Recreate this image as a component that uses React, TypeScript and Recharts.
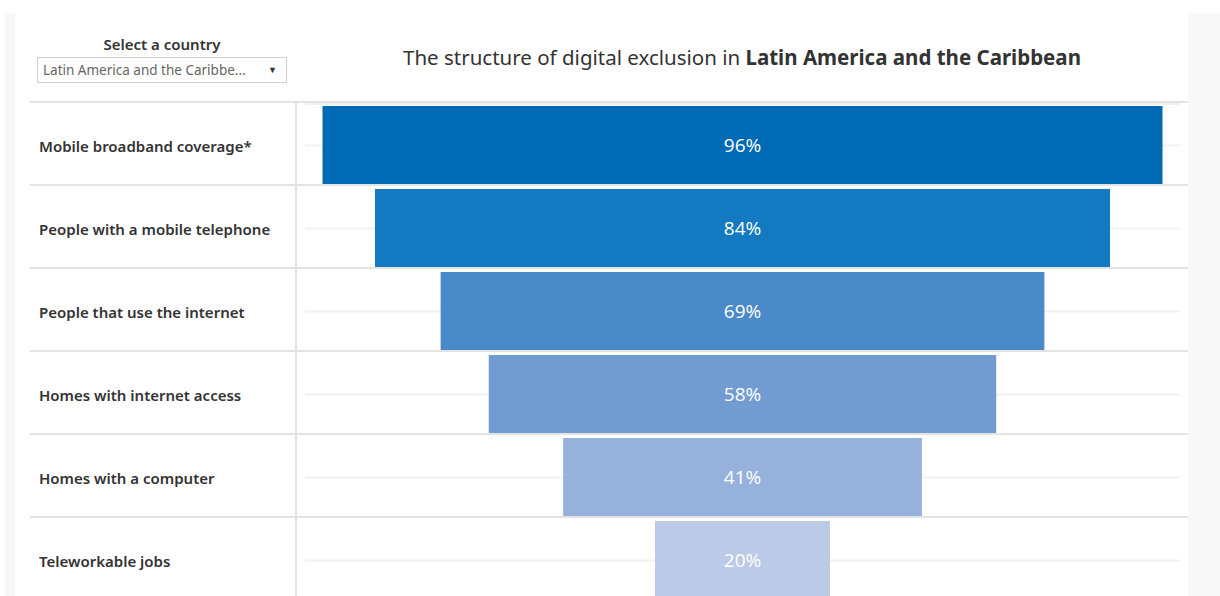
import { BarChart, Bar, XAxis, YAxis, CartesianGrid, Cell, LabelList } from 'recharts'

const categories = [
  'Mobile broadband coverage*',
  'People with a mobile telephone',
  'People that use the internet',
  'Homes with internet access',
  'Homes with a computer',
  'Teleworkable jobs',
]
const shares = [96, 84, 69, 58, 41, 20]
const barColors = ['#006ab4', '#1379c0', '#4a8ac8', '#729cd1', '#96b1dc', '#bbcae6']

// invisible pad on the left keeps each bar centred -> funnel
const rows = categories.map((name, i) => ({
  name,
  pad: (100 - shares[i]) / 2,
  share: shares[i],
}))

const labelFont = '"Noto Sans", sans-serif'

function RowTick(props: any) {
  const { y, payload } = props
  return (
    <g>
      <line x1={30} x2={1188} y1={y - 43.5} y2={y - 43.5} stroke="#e3e3e3" strokeWidth={2} />
      <text
        x={39}
        y={y}
        dominantBaseline="central"
        fontFamily={labelFont}
        fontSize={15}
        fontWeight={600}
        fill="#333"
      >
        {payload.value}
      </text>
    </g>
  )
}

export default function App() {
  return (
    <div
      style={{
        position: 'absolute',
        left: 0,
        top: 0,
        width: 1220,
        height: 596,
        overflow: 'hidden',
        background: '#fff',
      }}
    >
      <div style={{ position: 'absolute', left: 5, top: 13, width: 10, height: 583, background: '#f7f7f7' }} />
      <div style={{ position: 'absolute', left: 1188, top: 13, width: 32, height: 583, background: '#f8f8f8' }} />

      <div
        style={{
          position: 'absolute',
          left: 37,
          top: 34,
          width: 250,
          textAlign: 'center',
          fontFamily: labelFont,
          fontSize: 15,
          fontWeight: 600,
          color: '#333',
        }}
      >
        Select a country
      </div>
      <div
        style={{
          position: 'absolute',
          left: 37,
          top: 57,
          width: 243,
          height: 24,
          border: '1px solid #cfcfcf',
          fontFamily: labelFont,
          fontSize: 13.5,
          color: '#666',
          lineHeight: '24px',
          paddingLeft: 5,
          boxSizing: 'content-box',
        }}
      >
        Latin America and the Caribbe...
        <span style={{ position: 'absolute', right: 9, top: 0, fontSize: 9, color: '#333' }}>▼</span>
      </div>

      <div
        style={{
          position: 'absolute',
          left: 300,
          top: 43,
          width: 884,
          textAlign: 'center',
          fontFamily: labelFont,
          fontSize: 20.5,
          color: '#333',
        }}
      >
        The structure of digital exclusion in <b>Latin America and the Caribbean</b>
      </div>

      <div style={{ position: 'absolute', left: 295, top: 102, width: 2, height: 494, background: '#e3e3e3' }} />

      <div style={{ position: 'absolute', left: 0, top: 0 }}>
        <BarChart
          width={1220}
          height={602}
          layout="vertical"
          data={rows}
          margin={{ top: 104, right: 40, left: 0, bottom: 0 }}
        >
          <CartesianGrid horizontal vertical={false} stroke="#f1f1f1" strokeWidth={2} />
          <XAxis type="number" domain={[0, 100]} hide />
          <YAxis
            type="category"
            dataKey="name"
            width={305}
            axisLine={false}
            tickLine={false}
            tick={<RowTick />}
          />
          <Bar dataKey="pad" stackId="f" barSize={79} fill="transparent" isAnimationActive={false} />
          <Bar dataKey="share" stackId="f" barSize={79} isAnimationActive={false}>
            {rows.map((r, i) => (
              <Cell key={r.name} fill={barColors[i]} />
            ))}
            <LabelList
              dataKey="share"
              position="center"
              fill="#fff"
              fontFamily='"Open Sans", sans-serif'
              fontSize={19}
              formatter={(v: any) => `${v}%`}
            />
          </Bar>
        </BarChart>
      </div>
    </div>
  )
}
